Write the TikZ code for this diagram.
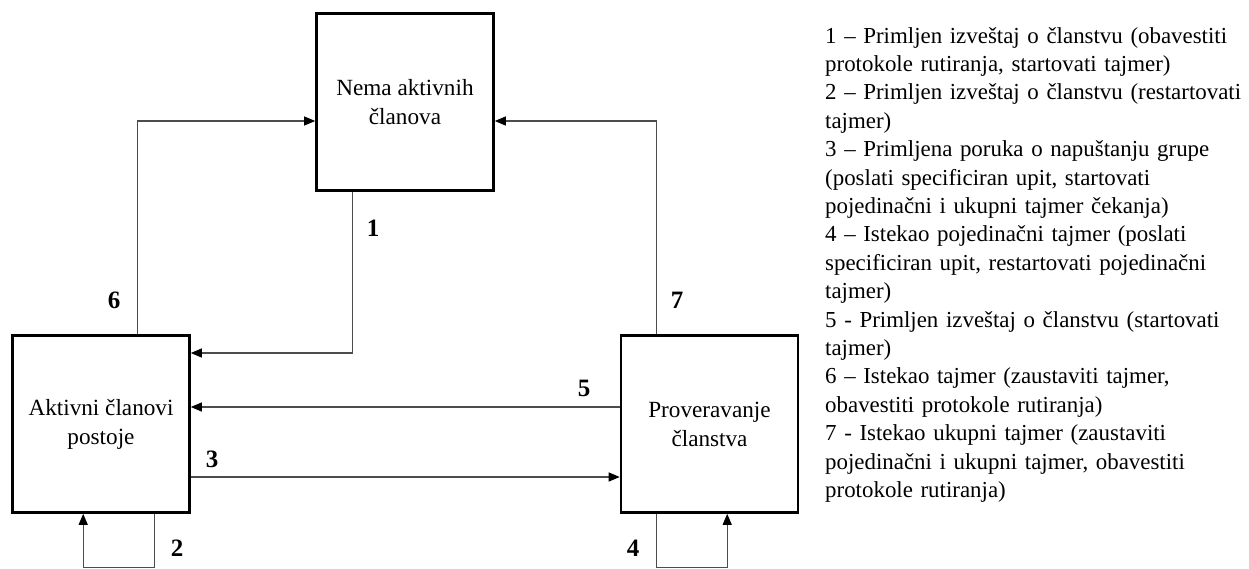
\documentclass[tikz,border=0pt]{standalone}
\usepackage{fontspec}
\setmainfont{Liberation Serif}
\usetikzlibrary{arrows.meta}

\tikzset{
  state/.style={draw=black, line width=2.6pt, minimum width=177pt, minimum height=177pt,
                align=center, inner sep=0pt, font=\fontsize{23.2}{29}\selectfont},
  conn/.style={draw=black!70, line width=1.1pt,
               -{Triangle[length=11pt,width=9pt,fill=black,color=black]}},
  num/.style={font=\fontsize{25}{30}\selectfont\bfseries, inner sep=0pt},
  legend/.style={align=left, text width=424pt, inner sep=0pt,
                 font=\fontsize{22.9}{28.4}\selectfont}
}

\begin{document}
\begin{tikzpicture}[x=1pt, y=-1pt]
  \useasboundingbox[fill=white] (0,0) rectangle (1249,568);

  % states
  \node[state] (N) at (405,102)   {Nema aktivnih\\članova};
  \node[state] (A) at (101,424)   {Aktivni članovi\\postoje};
  \node[state] (P) at (709.5,424) {Proveravanje\\članstva};

  % transitions
  \draw[conn] ([xshift=126pt]A.north west) |- ([yshift=-19pt]N.west);
  \draw[conn] ([xshift=37pt]N.south west) |- ([yshift=71pt]A.east);
  \draw[conn] ([xshift=36.5pt]P.north west) |- ([yshift=-19pt]N.east);
  \draw[conn] ([yshift=17pt]P.west) -- ([yshift=17pt]A.east);
  \draw[conn] ([yshift=-53pt]A.east) -- ([yshift=-53pt]P.west);
  \coordinate (a2) at ([xshift=143pt]A.south west);
  \draw[conn] (a2) -- ++(0,54) -| ([xshift=72pt]A.south west);
  \coordinate (p4) at ([xshift=36.5pt]P.south west);
  \draw[conn] (p4) -- ++(0,54) -| ([xshift=107.5pt]P.south west);

  % transition numbers
  \node[num] (n1) at (373,228) {1};
  \node[num] (n2) at (177,548) {2};
  \node[num] (n3) at (212,459) {3};
  \node[num] (n4) at (633,548) {4};
  \node[num] (n5) at (584,388) {5};
  \node[num] (n6) at (114,300) {6};
  \node[num] (n7) at (677,300) {7};

  % legend
  \node[legend, anchor=base west] (L) at (825,43) {%
    1 – Primljen izveštaj o članstvu (obavestiti\\
    protokole rutiranja, startovati tajmer)\\
    2 – Primljen izveštaj o članstvu (restartovati\\
    tajmer)\\
    3 – Primljena poruka o napuštanju grupe\\
    (poslati specificiran upit, startovati\\
    pojedinačni i ukupni tajmer čekanja)\\
    4 – Istekao pojedinačni tajmer (poslati\\
    specificiran upit, restartovati pojedinačni\\
    tajmer)\\
    5 - Primljen izveštaj o članstvu (startovati\\
    tajmer)\\
    6 – Istekao tajmer (zaustaviti tajmer,\\
    obavestiti protokole rutiranja)\\
    7 - Istekao ukupni tajmer (zaustaviti\\
    pojedinačni i ukupni tajmer, obavestiti\\
    protokole rutiranja)};
\end{tikzpicture}
\end{document}
